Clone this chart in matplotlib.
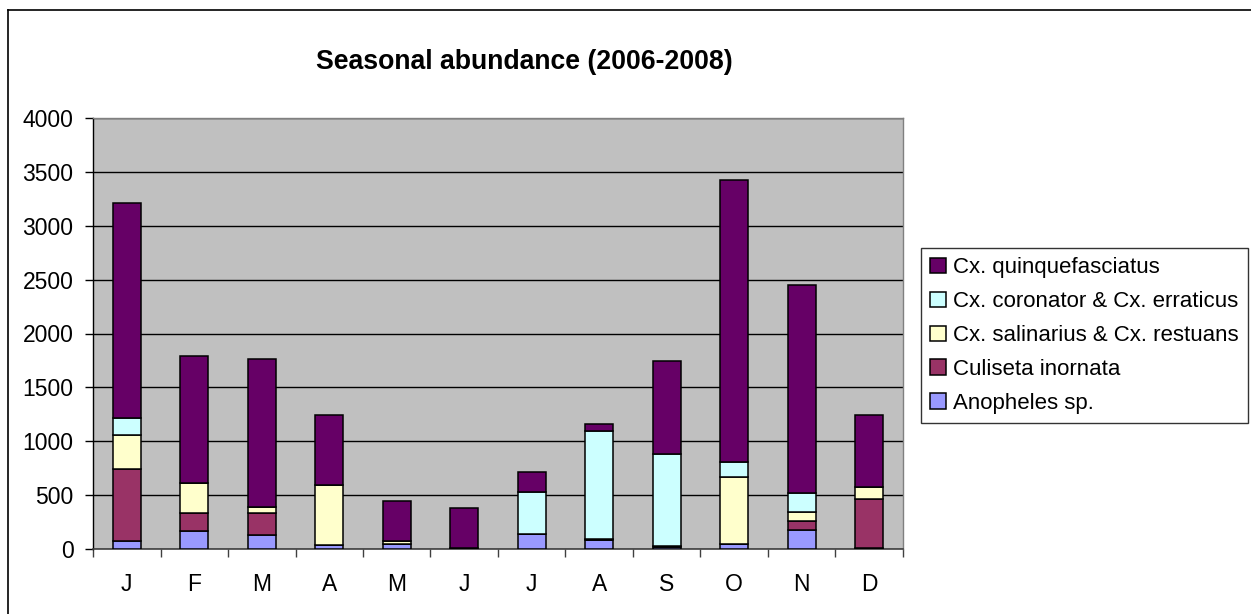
import matplotlib
matplotlib.use("Agg")
import matplotlib.pyplot as plt
from matplotlib.lines import Line2D
import numpy as np

plt.rcParams['font.family'] = ['Liberation Sans', 'DejaVu Sans']

months = ["J", "F", "M", "A", "M", "J", "J", "A", "S", "O", "N", "D"]
anopheles = [77, 167, 126, 40, 46, 5, 142, 85, 15, 46, 176, 12]
culiseta = [667, 163, 204, 0, 0, 0, 0, 0, 0, 0, 86, 451]
salinarius = [311, 284, 62, 550, 28, 0, 0, 10, 15, 621, 77, 111]
coronator = [164, 0, 0, 0, 0, 0, 383, 998, 850, 136, 177, 0]
quinque = [1991, 1176, 1370, 657, 367, 375, 194, 67, 865, 2620, 1938, 673]

series = [
    ("Anopheles sp.", anopheles, "#9999FF"),
    ("Culiseta inornata", culiseta, "#993366"),
    ("Cx. salinarius & Cx. restuans", salinarius, "#FFFFCC"),
    ("Cx. coronator & Cx. erraticus", coronator, "#CCFFFF"),
    ("Cx. quinquefasciatus", quinque, "#660066"),
]

W, H = 1251, 614
fig = plt.figure(figsize=(W / 100, H / 100), dpi=100)
ax = fig.add_axes([93 / W, 1 - 549 / H, (903 - 93) / W, (549 - 118) / H])
ax.set_facecolor("#C0C0C0")

x = np.arange(len(months))
bottom = np.zeros(len(months))
handles = []
for label, vals, color in series:
    v = np.array(vals, dtype=float)
    b = ax.bar(x, v, 0.42, bottom=bottom, color=color, edgecolor="black",
               linewidth=1.1, label=label, zorder=3)
    handles.append(b)
    bottom += v

ax.set_xlim(-0.5, len(months) - 0.5)
ax.set_ylim(0, 4000)
ax.set_yticks(np.arange(0, 4001, 500))
ax.yaxis.grid(True, color="black", linewidth=1)
ax.set_axisbelow(True)
ax.set_xticks(x)
ax.set_xticklabels(months)
ax.set_xticks(np.arange(-0.5, len(months), 1), minor=True)
ax.tick_params(axis="x", which="major", length=0, pad=17, labelsize=16.5)
ax.tick_params(axis="x", which="minor", length=6, width=1, color="#404040")
ax.tick_params(axis="y", length=6, width=1, labelsize=16.5, pad=8)

for s in ["top", "right"]:
    ax.spines[s].set_color("#808080")
    ax.spines[s].set_linewidth(1)
ax.spines["left"].set_color("black")
ax.spines["bottom"].set_color("#404040")
ax.spines["left"].set_linewidth(1)
ax.spines["bottom"].set_linewidth(1.2)

fig.text(524 / W, 1 - 62 / H, "Seasonal abundance (2006-2008)", ha="center",
         va="center", fontsize=19.2, fontweight="bold")

leg = fig.legend(handles[::-1], [s[0] for s in series][::-1],
                 loc="upper left", bbox_to_anchor=(921 / W, 1 - 248 / H),
                 fontsize=16, frameon=True, fancybox=False, shadow=False,
                 borderpad=0.42, labelspacing=0.58, handlelength=0.7,
                 handleheight=0.7, handletextpad=0.3, borderaxespad=0)
leg.get_frame().set_edgecolor("black")
leg.get_frame().set_linewidth(1)

fig.add_artist(Line2D([7.5 / W, 1.0], [1 - 9.5 / H, 1 - 9.5 / H],
                      transform=fig.transFigure, color="black", linewidth=1.2))
fig.add_artist(Line2D([7.5 / W, 7.5 / W], [0, 1 - 9.5 / H],
                      transform=fig.transFigure, color="black", linewidth=1.2))

fig.savefig("out.png", dpi=100)
